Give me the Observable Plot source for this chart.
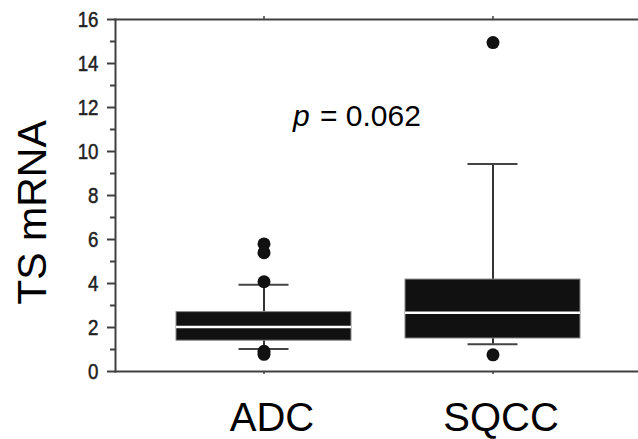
<!DOCTYPE html>
<html>
<head>
<meta charset="utf-8">
<script src="https://cdn.jsdelivr.net/npm/d3@7"></script>
<script src="https://cdn.jsdelivr.net/npm/@observablehq/plot@0.6"></script>
<style>
  html, body { margin: 0; padding: 0; background: #fff; overflow: hidden; }
</style>
</head>
<body>
<div id="chart"></div>
<script>
// ---- data ----
const groups = ["ADC", "SQCC"];
const q1 = [1.40, 1.50];
const median = [2.02, 2.67];
const q3 = [2.70, 4.18];
const whiskerLow = [1.02, 1.24];
const whiskerHigh = [3.94, 9.43];
const outlierGroup = ["ADC", "ADC", "ADC", "ADC", "ADC", "SQCC", "SQCC"];
const outlierValue = [5.80, 5.40, 4.08, 0.92, 0.78, 14.95, 0.76];
const yMajorTicks = [0, 2, 4, 6, 8, 10, 12, 14, 16];
const yMinorTicks = [1, 3, 5, 7, 9, 11, 13, 15];
const yLabel = "TS mRNA";
const pSymbol = "p";
const pValueText = "= 0.062";
const pValue = 11.6;

const boxes = groups.map((g, i) => ({
  group: g, q1: q1[i], median: median[i], q3: q3[i],
  lo: whiskerLow[i], hi: whiskerHigh[i]
}));
const outliers = outlierGroup.map((g, i) => ({group: g, value: outlierValue[i]}));

const axisColor = "#404040";
const sans = "'Liberation Sans', Arial, Helvetica, sans-serif";

// detect whether a narrow face exists; otherwise squeeze the regular one
const ctx = document.createElement("canvas").getContext("2d");
ctx.font = "22px 'Liberation Sans Narrow', monospace";
const wNarrow = ctx.measureText("1600").width;
ctx.font = "22px monospace";
const wMono = ctx.measureText("1600").width;
const hasNarrow = Math.abs(wNarrow - wMono) > 0.5;
const tickFont = hasNarrow ? "'Liberation Sans Narrow', sans-serif" : sans;

const chart = Plot.plot({
  width: 638,
  height: 439,
  marginLeft: 115,
  marginRight: 0,
  marginTop: 19,
  marginBottom: 68,
  style: {fontFamily: sans, background: "#fff", overflow: "hidden"},
  x: {type: "band", domain: groups, range: [115, 641], paddingInner: 0.235, paddingOuter: 0.261, axis: null},
  y: {domain: [0, 16], axis: null},
  marks: [
    // frame lines
    Plot.frame({anchor: "left", stroke: axisColor, strokeWidth: 2}),
    Plot.frame({anchor: "top", stroke: axisColor, strokeWidth: 2}),
    Plot.frame({anchor: "bottom", stroke: axisColor, strokeWidth: 2}),
    // y axis
    Plot.axisY({ticks: yMajorTicks, tickSize: 8, tickPadding: 9, fontSize: 22, fontFamily: tickFont,
      stroke: axisColor, strokeWidth: 2, color: "#222", label: null, className: "ymajor"}),
    Plot.axisY({ticks: yMinorTicks, tickSize: 5, tickFormat: () => "", stroke: axisColor, strokeWidth: 2, label: null}),
    // x axis ticks (top & bottom) and labels
    Plot.axisX({anchor: "top", tickSize: 4, tickFormat: () => "", stroke: axisColor, strokeWidth: 1.5, label: null}),
    Plot.axisX({anchor: "bottom", tickSize: 3, tickFormat: () => "", stroke: axisColor, strokeWidth: 1.5, label: null}),
    Plot.axisX({anchor: "bottom", tickSize: 0, tickPadding: 31, fontSize: 40, dx: 8, fill: "#000", label: null}),
    // whiskers
    Plot.ruleX(boxes, {x: "group", y1: "q3", y2: "hi", stroke: "#333", strokeWidth: 2}),
    Plot.ruleX(boxes, {x: "group", y1: "q1", y2: "lo", stroke: "#333", strokeWidth: 2}),
    Plot.tickY(boxes, {x: "group", y: "hi", stroke: "#444", strokeWidth: 2, insetLeft: 62.5, insetRight: 62.5}),
    Plot.tickY(boxes, {x: "group", y: "lo", stroke: "#444", strokeWidth: 2, insetLeft: 62.5, insetRight: 62.5}),
    // boxes
    Plot.barY(boxes, {x: "group", y1: "q1", y2: "q3", fill: "#111", stroke: "#888", strokeWidth: 1}),
    Plot.tickY(boxes, {x: "group", y: "median", stroke: "#fff", strokeWidth: 2.5}),
    // outliers
    Plot.dot(outliers, {x: "group", y: "value", r: 6.5, fill: "#111", stroke: "none"}),
    // p-value annotation
    Plot.text([pSymbol], {x: () => groups[0], y: () => pValue, text: d => d, textAnchor: "start", dx: 29,
      fontSize: 30, fontStyle: "italic", fill: "#000", lineAnchor: "middle"}),
    Plot.text([pValueText], {x: () => groups[0], y: () => pValue, text: d => d, textAnchor: "start", dx: 56,
      fontSize: 30, fill: "#000", lineAnchor: "middle"}),
    // y label
    Plot.text([yLabel], {frameAnchor: "left", text: d => d, rotate: -90, dx: -83, dy: 17,
      fontSize: 41, fill: "#000", textAnchor: "middle", lineAnchor: "middle"})
  ]
});

// slightly heavier, condensed y tick labels like the reference
d3.select(chart).selectAll("g.ymajor text, g[aria-label='y-axis tick label'] text").each(function() {
  if (!hasNarrow) {
    const t = this.getAttribute("transform") || "";
    this.setAttribute("transform", t + " scale(0.85,1)");
  }
  this.setAttribute("stroke", "#222");
  this.setAttribute("stroke-width", "0.5");
});
document.getElementById("chart").appendChild(chart);
</script>
</body>
</html>
